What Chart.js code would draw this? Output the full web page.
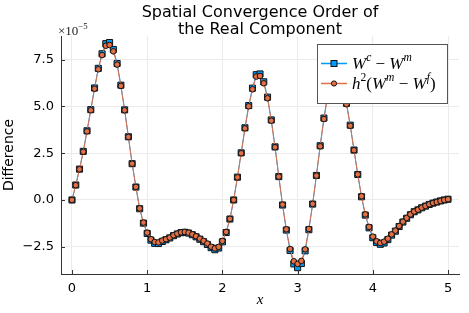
<!DOCTYPE html>
<html>
<head>
<meta charset="utf-8">
<script src="https://cdn.jsdelivr.net/npm/chart.js@4.4.1/dist/chart.umd.min.js"></script>
<style>
  html, body { margin: 0; padding: 0; background: #fff; }
</style>
</head>
<body>
<canvas id="convChart" width="469" height="313"></canvas>
<script>
// valores em unidades de 1e-5
const xGrid = [
  0.00, 0.05, 0.10, 0.15, 0.20, 0.25, 0.30, 0.35, 0.40, 0.45,
  0.50, 0.55, 0.60, 0.65, 0.70, 0.75, 0.80, 0.85, 0.90, 0.95,
  1.00, 1.05, 1.10, 1.15, 1.20, 1.25, 1.30, 1.35, 1.40, 1.45,
  1.50, 1.55, 1.60, 1.65, 1.70, 1.75, 1.80, 1.85, 1.90, 1.95,
  2.00, 2.05, 2.10, 2.15, 2.20, 2.25, 2.30, 2.35, 2.40, 2.45,
  2.50, 2.55, 2.60, 2.65, 2.70, 2.75, 2.80, 2.85, 2.90, 2.95,
  3.00, 3.05, 3.10, 3.15, 3.20, 3.25, 3.30, 3.35, 3.40, 3.45,
  3.50, 3.55, 3.60, 3.65, 3.70, 3.75, 3.80, 3.85, 3.90, 3.95,
  4.00, 4.05, 4.10, 4.15, 4.20, 4.25, 4.30, 4.35, 4.40, 4.45,
  4.50, 4.55, 4.60, 4.65, 4.70, 4.75, 4.80, 4.85, 4.90, 4.95,
  5.00
];

// W^c - W^m (quadrados azuis)
const diffCoarse = [
  0.00, 0.80, 1.65, 2.60, 3.70, 4.83, 5.99, 7.04, 7.82, 8.36,
  8.42, 8.05, 7.30, 6.14, 4.82, 3.38, 1.94, 0.69, -0.47, -1.24,
  -1.79, -2.15, -2.32, -2.33, -2.22, -2.13, -2.03, -1.91, -1.82, -1.75,
  -1.73, -1.77, -1.86, -1.97, -2.10, -2.23, -2.38, -2.55, -2.66, -2.57,
  -2.24, -1.74, -1.02, 0.00, 1.22, 2.52, 3.86, 5.05, 5.98, 6.70,
  6.74, 6.32, 5.50, 4.28, 2.84, 1.25, -0.27, -1.61, -2.70, -3.42,
  -3.62, -3.40, -2.72, -1.59, -0.22, 1.31, 2.90, 4.38, 5.62, 6.50,
  6.96, 6.95, 6.28, 5.17, 4.00, 2.67, 1.36, 0.17, -0.81, -1.49,
  -2.02, -2.27, -2.37, -2.30, -2.12, -1.88, -1.67, -1.42, -1.18, -0.98,
  -0.79, -0.63, -0.53, -0.42, -0.33, -0.24, -0.17, -0.11, -0.05, 0.00,
  0.04
];

// h^2 (W^m - W^f) (circulos laranja)
const diffFine = [
  0.00, 0.79, 1.64, 2.58, 3.67, 4.80, 5.95, 6.99, 7.75, 8.25,
  8.29, 7.95, 7.24, 6.10, 4.80, 3.37, 1.94, 0.70, -0.45, -1.21,
  -1.75, -2.10, -2.25, -2.27, -2.17, -2.10, -2.01, -1.89, -1.80, -1.73,
  -1.71, -1.75, -1.84, -1.94, -2.07, -2.19, -2.33, -2.50, -2.59, -2.51,
  -2.19, -1.71, -1.01, 0.00, 1.21, 2.50, 3.83, 5.01, 5.92, 6.60,
  6.63, 6.24, 5.44, 4.24, 2.82, 1.25, -0.25, -1.57, -2.62, -3.28,
  -3.42, -3.26, -2.64, -1.55, -0.21, 1.30, 2.87, 4.33, 5.55, 6.40,
  6.85, 6.85, 6.20, 5.12, 3.97, 2.66, 1.37, 0.20, -0.77, -1.44,
  -1.96, -2.21, -2.30, -2.23, -2.07, -1.84, -1.64, -1.39, -1.16, -0.96,
  -0.77, -0.62, -0.52, -0.41, -0.32, -0.23, -0.16, -0.11, -0.05, 0.00,
  0.04
];

const xTicks = [0, 1, 2, 3, 4, 5];
const yTicks = [-2.5, 0, 2.5, 5, 7.5];

const blue = '#009AFA';
const orange = '#E26F46';
const fontSans = '"DejaVu Sans", sans-serif';
const fontSerif = '"Liberation Serif", "DejaVu Serif", serif';

function toPoints(ys) {
    return xGrid.map((x, i) => ({ x: x, y: ys[i] }));
}

// desenha texto com sobrescritos: [texto, italico, sobrescrito]
function drawRich(ctx, parts, x, y, size) {
    let cx = x;
    parts.forEach(function(p) {
        const sz = p[2] ? size * 0.68 : size;
        ctx.font = (p[1] ? 'italic ' : '') + sz + 'px ' + fontSerif;
        ctx.fillText(p[0], cx, p[2] ? y - size * 0.4 : y);
        cx += ctx.measureText(p[0]).width;
    });
}

const decoracoes = {
    id: 'decoracoes',
    afterDraw(chart) {
        const ctx = chart.ctx;
        const a = chart.chartArea;
        const sx = chart.scales.x, sy = chart.scales.y;
        ctx.save();

        // marcas internas dos eixos
        ctx.strokeStyle = '#333';
        ctx.lineWidth = 1;
        ctx.beginPath();
        yTicks.forEach(function(v) {
            const py = Math.round(sy.getPixelForValue(v)) + 0.5;
            ctx.moveTo(a.left, py); ctx.lineTo(a.left + 4, py);
        });
        xTicks.forEach(function(v) {
            const px = Math.round(sx.getPixelForValue(v)) + 0.5;
            ctx.moveTo(px, a.bottom); ctx.lineTo(px, a.bottom - 4);
        });
        ctx.stroke();

        // titulo
        ctx.fillStyle = '#000';
        ctx.textAlign = 'center';
        ctx.textBaseline = 'middle';
        ctx.font = '16px ' + fontSans;
        const cx = (a.left + a.right) / 2;
        ctx.fillText('Spatial Convergence Order of', cx, 13);
        ctx.fillText('the Real Component', cx, 30);

        // rotulos dos eixos
        ctx.font = '14px ' + fontSans;
        ctx.save();
        ctx.translate(9, (a.top + a.bottom) / 2);
        ctx.rotate(-Math.PI / 2);
        ctx.fillText('Difference', 0, 0);
        ctx.restore();
        ctx.font = 'italic 15px ' + fontSerif;
        ctx.fillText('x', cx, 300);

        // fator de escala
        ctx.textAlign = 'left';
        ctx.fillStyle = '#222';
        drawRich(ctx, [['\u00d710', false, false], ['\u22125', false, true]], 58, 32, 13);

        // legenda
        const lx = 317, ly = 44, lw = 130, lh = 59;
        ctx.fillStyle = '#fff';
        ctx.fillRect(lx, ly, lw, lh);
        ctx.strokeStyle = '#555';
        ctx.lineWidth = 1;
        ctx.strokeRect(lx + 0.5, ly + 0.5, lw, lh);

        const rows = [
            { y: 63.5, color: blue, marker: 'rect',
              text: [['W', true, false], ['c', true, true], [' \u2212 ', false, false], ['W', true, false], ['m', true, true]] },
            { y: 83.5, color: orange, marker: 'circle',
              text: [['h', true, false], ['2', false, true], ['(', false, false], ['W', true, false], ['m', true, true],
                     [' \u2212 ', false, false], ['W', true, false], ['f', true, true], [')', false, false]] }
        ];
        rows.forEach(function(r) {
            ctx.strokeStyle = r.color;
            ctx.lineWidth = 1.5;
            ctx.beginPath();
            ctx.moveTo(321, r.y); ctx.lineTo(347, r.y);
            ctx.stroke();
            ctx.fillStyle = r.color;
            ctx.strokeStyle = '#111';
            ctx.lineWidth = 1;
            if (r.marker === 'rect') {
                ctx.fillRect(331, r.y - 3, 6, 6);
                ctx.strokeRect(331, r.y - 3, 6, 6);
            } else {
                ctx.beginPath();
                ctx.arc(334, r.y, 2.6, 0, Math.PI * 2);
                ctx.fill(); ctx.stroke();
            }
            ctx.fillStyle = '#000';
            ctx.textBaseline = 'middle';
            drawRich(ctx, r.text, 352, r.y + 1, 17);
        });
        ctx.restore();
    }
};

const ctxConv = document.getElementById('convChart').getContext('2d');
new Chart(ctxConv, {
    type: 'line',
    data: {
        datasets: [{
            label: 'W^c - W^m',
            data: toPoints(diffCoarse),
            borderColor: blue,
            borderWidth: 1,
            backgroundColor: blue,
            pointStyle: 'rect',
            pointRadius: 4.3,
            pointBackgroundColor: blue,
            pointBorderColor: '#111',
            pointBorderWidth: 1,
            tension: 0,
            order: 1
        }, {
            label: 'h^2(W^m - W^f)',
            data: toPoints(diffFine),
            borderColor: orange,
            borderWidth: 1,
            backgroundColor: orange,
            pointStyle: 'circle',
            pointRadius: 2.8,
            pointBackgroundColor: orange,
            pointBorderColor: '#111',
            pointBorderWidth: 1,
            tension: 0,
            order: 0
        }]
    },
    options: {
        responsive: false,
        animation: false,
        devicePixelRatio: 1,
        layout: { padding: { top: 36, right: 10, left: 0, bottom: 0 } },
        scales: {
            x: {
                type: 'linear',
                min: -0.146,
                max: 5.146,
                afterBuildTicks: function(s) { s.ticks = xTicks.map(v => ({ value: v })); },
                afterFit: function(s) { s.height = 39; },
                ticks: {
                    color: '#000',
                    font: { family: fontSans, size: 13 },
                    padding: 7,
                    callback: v => String(v)
                },
                grid: { color: '#ebebeb', lineWidth: 1, drawTicks: false },
                border: { display: true, color: '#333', width: 1 }
            },
            y: {
                min: -3.96,
                max: 8.77,
                afterBuildTicks: function(s) { s.ticks = yTicks.map(v => ({ value: v })); },
                afterFit: function(s) { s.width = 61; },
                ticks: {
                    color: '#000',
                    font: { family: fontSans, size: 13 },
                    padding: 7,
                    callback: v => (v < 0 ? '\u2212' + Math.abs(v).toFixed(1) : v.toFixed(1))
                },
                grid: { color: '#ebebeb', lineWidth: 1, drawTicks: false },
                border: { display: true, color: '#333', width: 1 }
            }
        },
        plugins: {
            legend: { display: false },
            tooltip: { enabled: false },
            title: { display: false }
        }
    },
    plugins: [decoracoes]
});
</script>
</body>
</html>
